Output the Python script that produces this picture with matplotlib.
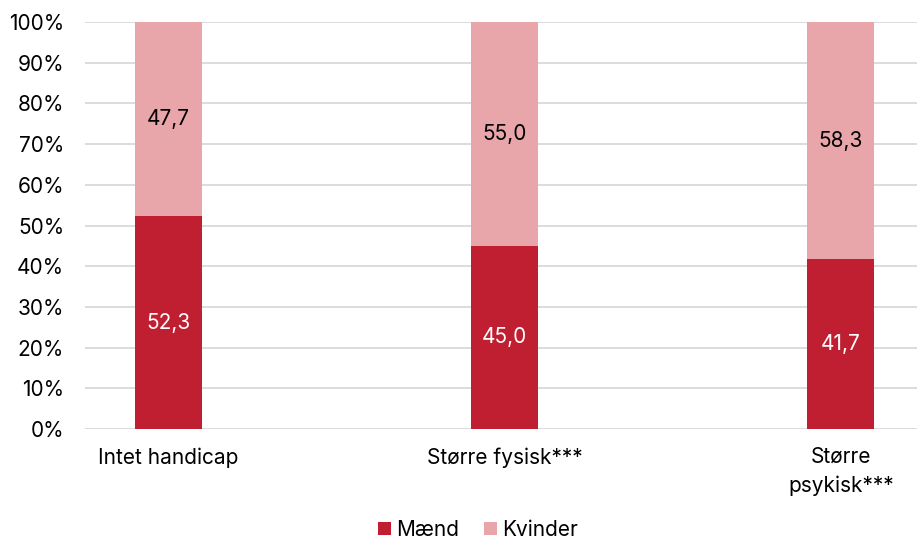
import numpy as np
import matplotlib.pyplot as plt

plt.rcParams['font.family'] = ['Inter', 'DejaVu Sans']

kategorier = ['Intet handicap', 'Større fysisk***', 'Større\npsykisk***']
maend = [52.3, 45.0, 41.7]
kvinder = [47.7, 55.0, 58.3]

rod = '#C01F32'
lyserod = '#E8A6AB'

fig = plt.figure(figsize=(9.17, 5.42), dpi=100)
ax = fig.add_axes([85/917, 1 - 429/542, 1 - 85/917, 407/542])

x = np.arange(len(kategorier))
b1 = ax.bar(x, maend, width=0.2, color=rod, label='Mænd', zorder=3)
b2 = ax.bar(x, kvinder, width=0.2, bottom=maend, color=lyserod, label='Kvinder', zorder=3)

for i in range(len(x)):
    ax.text(x[i], maend[i] / 2, f'{maend[i]:.1f}'.replace('.', ','),
            ha='center', va='center', color='white', fontsize=15, zorder=4)
    ax.text(x[i], maend[i] + kvinder[i] / 2, f'{kvinder[i]:.1f}'.replace('.', ','),
            ha='center', va='center', color='black', fontsize=15, zorder=4)

ax.set_ylim(0, 100)
ax.set_xlim(-0.248, 2.227)
ax.set_yticks(np.arange(0, 101, 10))
ax.set_yticklabels([f'{v}%' for v in range(0, 101, 10)], fontsize=15)
ax.set_xticks(x)
ax.set_xticklabels(kategorier, fontsize=15, linespacing=1.5)
ax.tick_params(length=0)
ax.tick_params(axis='y', pad=15)
ax.tick_params(axis='x', pad=13)
ax.grid(axis='y', color='#D9D9D9', linewidth=1.3, zorder=0)
for s in ax.spines.values():
    s.set_visible(False)

fig.legend(handles=[b1, b2], loc='center', bbox_to_anchor=(478/917, 1 - 530/542),
           ncol=2, frameon=False, fontsize=15, handlelength=0.6, handleheight=0.6,
           handletextpad=0.25, columnspacing=1.2)

fig.savefig('out.png', dpi=100)
